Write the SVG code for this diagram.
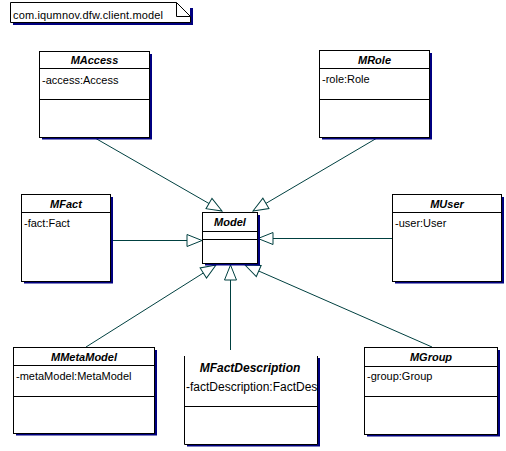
<svg xmlns="http://www.w3.org/2000/svg" width="506" height="451" viewBox="0 0 506 451">
<style>
.sh{fill:#000080;stroke:none}
.bx{fill:#fff;stroke:#000;stroke-width:1}
.ln{stroke:#000;stroke-width:1;fill:none}
.t{font-family:"Liberation Sans",Arial,sans-serif;font-size:11px;font-weight:bold;font-style:italic;text-anchor:middle;fill:#000}
.a{font-family:"Liberation Sans",Arial,sans-serif;font-size:11px;fill:#000}
.c{stroke:#004040;stroke-width:1;fill:none;marker-end:url(#tri)}
</style>
<defs>
<marker id="tri" markerUnits="userSpaceOnUse" viewBox="-17 -8 19 16" refX="0" refY="0" markerWidth="19" markerHeight="16" orient="auto">
<path d="M0,0 L-15,-6 L-15,6 Z" fill="#fff" stroke="#004040" stroke-width="1"/>
</marker>
<clipPath id="fdclip"><rect x="184" y="350" width="133" height="100"/></clipPath>
</defs>
<rect width="506" height="451" fill="#fff"/>

<g id="package">
<path class="sh" d="M13,22 H193 V8 H190 V22 Z M13,22 h180 v3 h-180 Z"/>
<path class="bx" d="M10.5,2.5 H176.5 L190.5,16.5 V22.5 H10.5 Z"/>
<path class="ln" d="M176.5,2.5 V16.5 H190.5"/>
<text class="a" x="13" y="19" textLength="150">com.iqumnov.dfw.client.model</text>
</g>

<g id="connectors">
<line class="c" x1="95" y1="138" x2="222" y2="211"/>
<line class="c" x1="377" y1="138" x2="253" y2="211"/>
<line class="c" x1="110" y1="240.5" x2="202" y2="240.5"/>
<line class="c" x1="392" y1="238.5" x2="258" y2="238.5"/>
<line class="c" x1="86" y1="347" x2="216" y2="265"/>
<line class="c" x1="230.5" y1="356" x2="230.5" y2="265"/>
<line class="c" x1="432" y1="347" x2="245" y2="265"/>
</g>

<g id="MAccess">
<rect class="sh" x="42" y="54" width="110" height="85.5"/>
<rect class="bx" x="39.5" y="51.5" width="110" height="86"/>
<line class="ln" x1="39.5" y1="68.5" x2="149.5" y2="68.5"/>
<line class="ln" x1="39.5" y1="99.5" x2="149.5" y2="99.5"/>
<text class="t" x="94.5" y="64">MAccess</text>
<text class="a" x="42" y="84">-access:Access</text>
</g>

<g id="MRole">
<rect class="sh" x="322" y="53" width="110" height="86.5"/>
<rect class="bx" x="319.5" y="50.5" width="110" height="87"/>
<line class="ln" x1="319.5" y1="68.5" x2="429.5" y2="68.5"/>
<line class="ln" x1="319.5" y1="99.5" x2="429.5" y2="99.5"/>
<text class="t" x="374.5" y="64">MRole</text>
<text class="a" x="322" y="83">-role:Role</text>
</g>

<g id="MFact">
<rect class="sh" x="24" y="197" width="89" height="86.5"/>
<rect class="bx" x="21.5" y="194.5" width="89" height="87"/>
<line class="ln" x1="21.5" y1="212.5" x2="110.5" y2="212.5"/>
<text class="t" x="66" y="208">MFact</text>
<text class="a" x="24" y="227">-fact:Fact</text>
</g>

<g id="MUser">
<rect class="sh" x="395" y="197" width="109" height="86.5"/>
<rect class="bx" x="392.5" y="194.5" width="109" height="87"/>
<line class="ln" x1="392.5" y1="212.5" x2="501.5" y2="212.5"/>
<text class="t" x="447" y="208">MUser</text>
<text class="a" x="395" y="227">-user:User</text>
</g>

<g id="Model">
<rect class="sh" x="205" y="215" width="55" height="50.5"/>
<rect class="bx" x="202.5" y="212.5" width="55" height="51"/>
<line class="ln" x1="202.5" y1="231.5" x2="257.5" y2="231.5"/>
<line class="ln" x1="202.5" y1="239.5" x2="257.5" y2="239.5"/>
<text class="t" x="230" y="226">Model</text>
</g>

<g id="MMetaModel">
<rect class="sh" x="16" y="350" width="141" height="85.5"/>
<rect class="bx" x="13.5" y="347.5" width="141" height="86"/>
<line class="ln" x1="13.5" y1="365.5" x2="154.5" y2="365.5"/>
<line class="ln" x1="13.5" y1="396.5" x2="154.5" y2="396.5"/>
<text class="t" x="84" y="361">MMetaModel</text>
<text class="a" x="16" y="380">-metaModel:MetaModel</text>
</g>

<g id="MFactDescription">
<rect class="sh" x="187" y="358" width="133" height="88.5"/>
<rect x="184.5" y="350" width="133" height="94.5" fill="#fff"/>
<path class="ln" d="M184.5,356 V444.5 H317.5 V356"/>
<line class="ln" x1="184.5" y1="406.5" x2="317.5" y2="406.5"/>
<g clip-path="url(#fdclip)">
<text class="t" x="250" y="372" style="font-size:12px">MFactDescription</text>
<text class="a" x="186" y="391" style="font-size:12px">-factDescription:FactDescription</text>
</g>
</g>

<g id="MGroup">
<rect class="sh" x="367" y="350" width="133" height="86.5"/>
<rect class="bx" x="364.5" y="347.5" width="133" height="87"/>
<line class="ln" x1="364.5" y1="366.5" x2="497.5" y2="366.5"/>
<line class="ln" x1="364.5" y1="396.5" x2="497.5" y2="396.5"/>
<text class="t" x="431" y="361">MGroup</text>
<text class="a" x="367" y="380">-group:Group</text>
</g>
</svg>
